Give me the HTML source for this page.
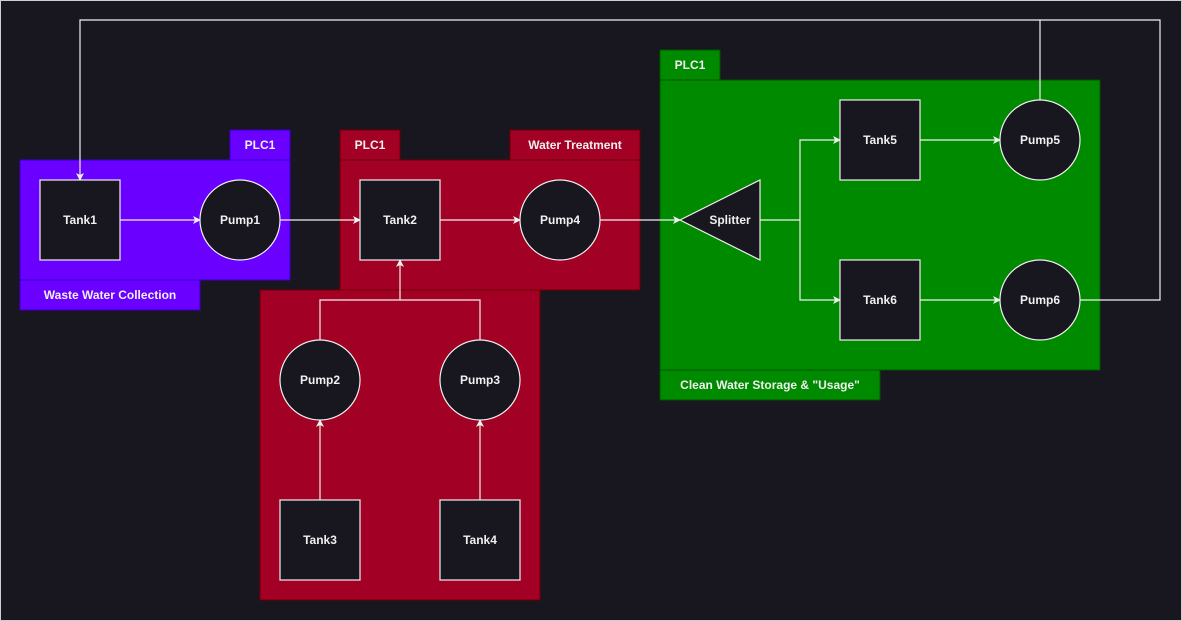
<!DOCTYPE html>
<html><head><meta charset="utf-8"><style>
html,body{margin:0;padding:0;background:#18161e;}
svg{display:block;}
text{font-family:"Liberation Sans",sans-serif;font-size:12px;font-weight:bold;fill:#f0f0f0;text-anchor:middle;dominant-baseline:central;}
</style></head><body>
<svg width="1182" height="621" viewBox="0 0 1182 621" xmlns="http://www.w3.org/2000/svg">
<defs><marker id="a" markerWidth="8" markerHeight="8" refX="7" refY="4" orient="auto" markerUnits="userSpaceOnUse"><path d="M0,0 L8,4 L0,8 L2,4 Z" fill="#f0f0f0"/></marker></defs>
<rect x="0" y="0" width="1182" height="621" fill="#18161e"/>
<rect x="0.5" y="0.5" width="1181" height="620" fill="none" stroke="#cfcfcf" stroke-width="1"/>
<!-- purple -->
<g fill="#6a00ff" stroke="#3700cc">
<rect x="20" y="160" width="270" height="120"/>
<rect x="230" y="130" width="60" height="30"/>
<rect x="20" y="280" width="180" height="30"/>
</g>
<text x="260" y="145">PLC1</text>
<text x="110" y="295">Waste Water Collection</text>
<!-- red -->
<g fill="#a20025" stroke="#6f0000">
<rect x="340" y="160" width="300" height="130"/>
<rect x="340" y="130" width="60" height="30"/>
<rect x="510" y="130" width="130" height="30"/>
<rect x="260" y="290" width="280" height="310"/>
</g>
<text x="370" y="145">PLC1</text>
<text x="575" y="145">Water Treatment</text>
<!-- green -->
<g fill="#008a00" stroke="#005700">
<rect x="660" y="80" width="440" height="290"/>
<rect x="660" y="50" width="60" height="30"/>
<rect x="660" y="370" width="220" height="30"/>
</g>
<text x="690" y="65">PLC1</text>
<text x="770" y="385">Clean Water Storage &amp; "Usage"</text>
<!-- edges -->
<g stroke="#f0f0f0" stroke-width="1.2" fill="none">
<path d="M120,220 H200" marker-end="url(#a)"/>
<path d="M280,220 H360" marker-end="url(#a)"/>
<path d="M440,220 H520" marker-end="url(#a)"/>
<path d="M600,220 H680" marker-end="url(#a)"/>
<path d="M760,220 H800 V140 H840" marker-end="url(#a)"/>
<path d="M800,220 V300 H840" marker-end="url(#a)"/>
<path d="M920,140 H1000" marker-end="url(#a)"/>
<path d="M920,300 H1000" marker-end="url(#a)"/>
<path d="M1080,300 H1160 V20 H80 V180" marker-end="url(#a)"/>
<path d="M1040,100 V20"/>
<path d="M320,340 V300 H400 V260" marker-end="url(#a)"/>
<path d="M480,340 V300 H400"/>
<path d="M320,500 V420" marker-end="url(#a)"/>
<path d="M480,500 V420" marker-end="url(#a)"/>
</g>
<!-- nodes -->
<g fill="#18161e" stroke="#f0f0f0" stroke-width="1.2">
<rect x="40" y="180" width="80" height="80"/>
<circle cx="240" cy="220" r="40"/>
<rect x="360" y="180" width="80" height="80"/>
<circle cx="560" cy="220" r="40"/>
<path d="M680,220 L760,180 L760,260 Z"/>
<rect x="840" y="100" width="80" height="80"/>
<circle cx="1040" cy="140" r="40"/>
<rect x="840" y="260" width="80" height="80"/>
<circle cx="1040" cy="300" r="40"/>
<circle cx="320" cy="380" r="40"/>
<circle cx="480" cy="380" r="40"/>
<rect x="280" y="500" width="80" height="80"/>
<rect x="440" y="500" width="80" height="80"/>
</g>
<text x="80" y="220">Tank1</text>
<text x="240" y="220">Pump1</text>
<text x="400" y="220">Tank2</text>
<text x="560" y="220">Pump4</text>
<text x="730" y="220">Splitter</text>
<text x="880" y="140">Tank5</text>
<text x="1040" y="140">Pump5</text>
<text x="880" y="300">Tank6</text>
<text x="1040" y="300">Pump6</text>
<text x="320" y="380">Pump2</text>
<text x="480" y="380">Pump3</text>
<text x="320" y="540">Tank3</text>
<text x="480" y="540">Tank4</text>
</svg>
</body></html>
